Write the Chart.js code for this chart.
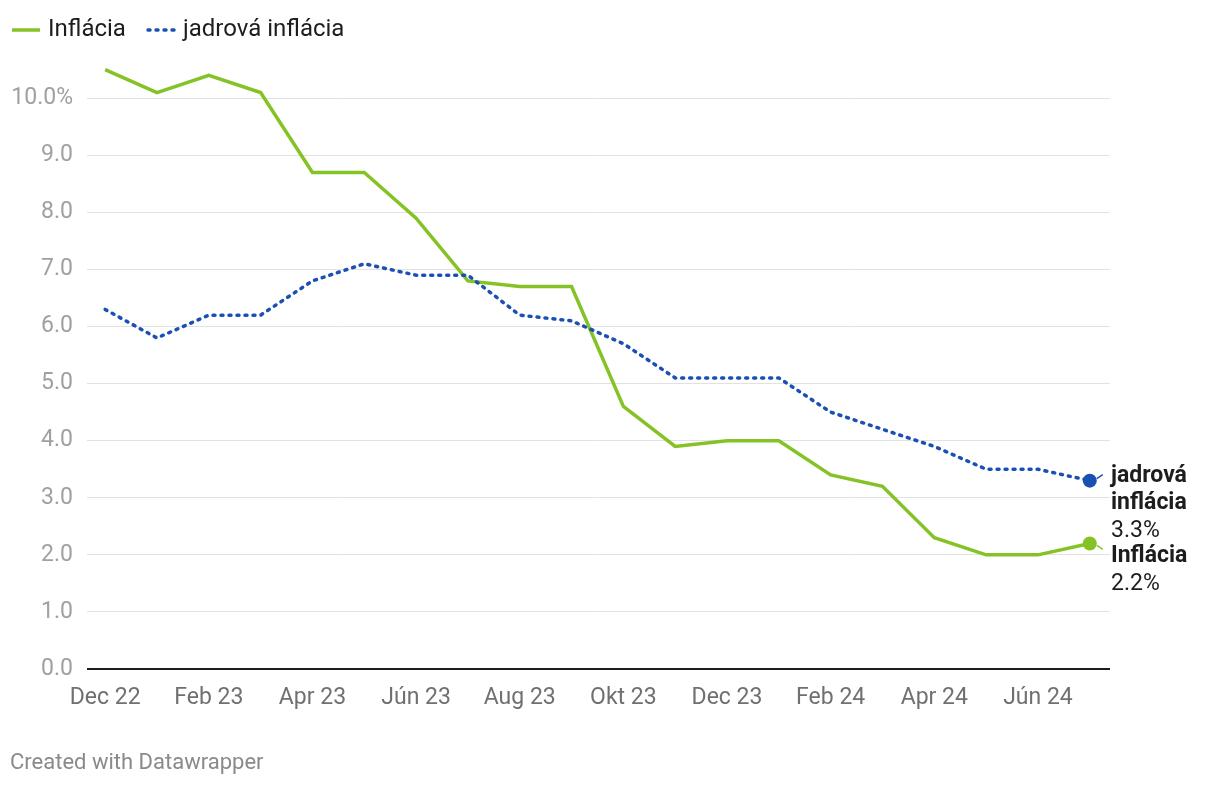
<!DOCTYPE html>
<html>
<head>
<meta charset="utf-8">
<script src="https://cdn.jsdelivr.net/npm/chart.js@4/dist/chart.umd.min.js"></script>
<style>
  html, body { margin: 0; padding: 0; background: #fff; }
  #wrap { position: relative; width: 1220px; height: 786px; }
</style>
</head>
<body>
<div id="wrap"><canvas id="lineChart" width="1220" height="786"></canvas></div>
<script>
var months = ["Dec 22", "Jan 23", "Feb 23", "Mar 23", "Apr 23", "Máj 23", "Jún 23", "Júl 23", "Aug 23", "Sep 23",
              "Okt 23", "Nov 23", "Dec 23", "Jan 24", "Feb 24", "Mar 24", "Apr 24", "Máj 24", "Jún 24", "Júl 24"];
var inflacia = [10.5, 10.1, 10.4, 10.1, 8.7, 8.7, 7.9, 6.8, 6.7, 6.7, 4.6, 3.9, 4.0, 4.0, 3.4, 3.2, 2.3, 2.0, 2.0, 2.2];
var jadrova = [6.3, 5.8, 6.2, 6.2, 6.8, 7.1, 6.9, 6.9, 6.2, 6.1, 5.7, 5.1, 5.1, 5.1, 4.5, 4.2, 3.9, 3.5, 3.5, 3.3];
var yTicks = [0, 1, 2, 3, 4, 5, 6, 7, 8, 9, 10];

var green = "#85c226";
var blue = "#1a4fb3";
var font = "Roboto";

function toPoints(arr) {
    return arr.map(function(v, i) { return { x: i, y: v }; });
}
function lastRadius(ctx) {
    return ctx.dataIndex === ctx.dataset.data.length - 1 ? 7 : 0;
}

var overlay = {
    id: "overlay",
    afterDraw: function(chart) {
        var c = chart.ctx;
        var xs = chart.scales.x, ys = chart.scales.y;
        var last = months.length - 1;
        c.save();
        // legend
        c.lineWidth = 3.5;
        c.strokeStyle = green;
        c.beginPath(); c.moveTo(12, 30); c.lineTo(40, 30); c.stroke();
        c.strokeStyle = blue;
        c.setLineDash([2, 6]); c.lineCap = "round";
        c.beginPath(); c.moveTo(148, 30); c.lineTo(176, 30); c.stroke();
        c.setLineDash([]); c.lineCap = "butt";
        c.fillStyle = "#1d1d1d";
        c.font = "24px " + font;
        c.textBaseline = "middle";
        c.fillText("Inflácia", 48, 30);
        c.fillText("jadrová inflácia", 183, 30);

        // connectors from end points to labels
        var px = xs.getPixelForValue(last);
        c.lineWidth = 1.5;
        c.strokeStyle = blue;
        var py = ys.getPixelForValue(jadrova[last]);
        c.beginPath(); c.moveTo(px + 7, py - 2); c.lineTo(px + 13, py - 6); c.stroke();
        c.strokeStyle = green;
        py = ys.getPixelForValue(inflacia[last]);
        c.beginPath(); c.moveTo(px + 7, py + 2); c.lineTo(px + 13, py + 6); c.stroke();

        // end labels
        var lx = 1111;
        c.fillStyle = "#1d1d1d";
        c.font = "bold 23px " + font;
        c.fillText("jadrová", lx, 476);
        c.fillText("inflácia", lx, 503);
        c.font = "23px " + font;
        c.fillText(jadrova[last].toFixed(1) + "%", lx, 531);
        c.font = "bold 23px " + font;
        c.fillText("Inflácia", lx, 556);
        c.font = "23px " + font;
        c.fillText(inflacia[last].toFixed(1) + "%", lx, 584);

        // footer
        c.fillStyle = "#8a8a8a";
        c.font = "22px " + font;
        c.fillText("Created with Datawrapper", 10, 763);
        c.restore();
    }
};

var ctx1 = document.getElementById("lineChart").getContext("2d");
var myChart = new Chart(ctx1, {
    type: "line",
    data: {
        datasets: [
            {
                label: "jadrová inflácia",
                data: toPoints(jadrova),
                borderColor: blue,
                backgroundColor: blue,
                borderWidth: 3.5,
                borderDash: [2, 6],
                borderCapStyle: "round",
                pointRadius: lastRadius,
                pointHoverRadius: lastRadius,
                pointBorderWidth: 0,
                tension: 0
            },
            {
                label: "Inflácia",
                data: toPoints(inflacia),
                borderColor: green,
                backgroundColor: green,
                borderWidth: 3.5,
                pointRadius: lastRadius,
                pointHoverRadius: lastRadius,
                pointBorderWidth: 0,
                tension: 0
            }
        ]
    },
    options: {
        responsive: false,
        animation: false,
        layout: { padding: { top: 64, right: 110, left: 0, bottom: 0 } },
        plugins: {
            legend: { display: false },
            tooltip: { enabled: false }
        },
        scales: {
            x: {
                type: "linear",
                min: -0.35,
                max: 19.39,
                afterBuildTicks: function(scale) {
                    var t = [];
                    for (var i = 0; i < months.length; i += 2) t.push({ value: i });
                    scale.ticks = t;
                },
                afterFit: function(scale) { scale.height = 786 - 64 - 605; },
                ticks: {
                    autoSkip: false,
                    maxRotation: 0,
                    padding: 7,
                    color: "#707070",
                    font: { family: font, size: 23 },
                    callback: function(value) { return months[value]; }
                },
                grid: { display: false },
                border: { display: false }
            },
            y: {
                min: 0,
                max: 10.6,
                afterBuildTicks: function(scale) {
                    scale.ticks = yTicks.map(function(v) { return { value: v }; });
                },
                afterFit: function(scale) { scale.width = 87; },
                ticks: {
                    padding: 14,
                    color: "#a0a0a0",
                    font: { family: font, size: 23 },
                    callback: function(value) {
                        return value === 10 ? value.toFixed(1) + "%" : value.toFixed(1);
                    }
                },
                grid: {
                    drawTicks: false,
                    color: function(c) { return c.tick && c.tick.value === 0 ? "#1d1d1d" : "#e2e2e2"; },
                    lineWidth: function(c) { return c.tick && c.tick.value === 0 ? 2 : 1; }
                },
                border: { display: false }
            }
        }
    },
    plugins: [overlay]
});
</script>
</body>
</html>
